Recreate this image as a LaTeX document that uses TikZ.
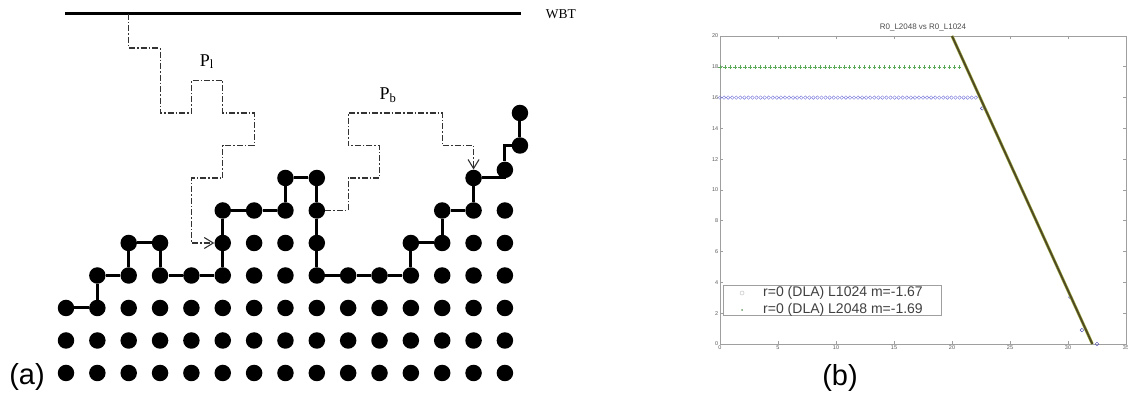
\documentclass[tikz,border=0pt]{standalone}
\usepackage{fontspec}
\setmainfont{Liberation Serif}
\newfontfamily\arialfont{Liberation Sans}
\usetikzlibrary{arrows.meta}
\definecolor{fitdark}{RGB}{80,72,35}
\definecolor{fitedge}{RGB}{160,175,70}
\definecolor{plusgreen}{RGB}{90,170,90}
\definecolor{circblue}{RGB}{120,120,220}

\tikzset{
  dot/.style={circle, fill=black, inner sep=0pt, minimum size=16.5pt},
  bond/.style={line width=3pt},
  walk/.style={line width=1.1pt, black!80, dash pattern=on 6pt off 2pt on 1.5pt off 2pt,
    -{Straight Barb[length=9pt,width=11pt]}},
  frame/.style={gray!75, line width=0.7pt},
  ticklab/.style={font=\arialfont\fontsize{5.5}{6}\selectfont, text=gray!70!black, inner sep=1.5pt},
  legtext/.style={font=\arialfont\fontsize{14}{15}\selectfont, text=black!75, inner sep=0pt},
}

\begin{document}
\begin{tikzpicture}[x=1pt, y=1pt]
\useasboundingbox (0,0) rectangle (1128,398);

% (a) lattice with the two walks
\begin{scope}[shift={(66,25)}, x=31.35pt, y=32.5pt]
  \foreach \j/\cols in {0/{0,...,14}, 1/{0,...,14}, 2/{0,...,14}, 3/{1,...,14},
      4/{2,3,5,6,7,8,11,12,13,14}, 5/{5,6,7,8,12,13,14}, 6/{7,8,13}}
    \foreach \i in \cols
      \node[dot] (d-\i-\j) at (\i,\j) {};
  \node[dot] (e1) at (14,6.25) {};
  \node[dot] (e2) at (14.48,7) {};
  \node[dot] (e3) at (14.48,8) {};

  \draw[bond] (d-0-2) -- (d-1-2) -- (d-1-3) -- (d-2-3) -- (d-2-4) -- (d-3-4) -- (d-3-3)
    -- (d-4-3) -- (d-5-3) -- (d-5-4) -- (d-5-5) -- (d-6-5) -- (d-7-5) -- (d-7-6)
    -- (d-8-6) -- (d-8-5) -- (d-8-4) -- (d-8-3) -- (d-9-3) -- (d-10-3) -- (d-11-3)
    -- (d-11-4) -- (d-12-4) -- (d-12-5) -- (d-13-5) -- (d-13-6);
  \draw[bond] (d-13-6) -| (e1);
  \draw[bond] (e1) |- (e2);
  \draw[bond] (e2) -- (e3);

  \coordinate (wbtL) at (-0.03,11.05);
  \coordinate (wbtR) at (14.5,11.05);
  \draw[line width=3pt] (wbtL) -- (wbtR);
  \node[anchor=west, font=\fontsize{13.5}{14}\selectfont, inner sep=0pt] (wbt) at ([xshift=25pt]wbtR) {WBT};

  % walk P_l
  \draw[walk] (2,11.05) -- (2,10) -- (3,10) -- (3,8) -- (4,8) -- (4,9) -- (5,9) -- (5,8)
    -- (6,8) -- (6,7) -- (5,7) -- (5,6) -- (4,6) -- (4,4) -- (d-5-4);
  % walk P_b
  \draw[walk] (d-8-5) -- (9,5) -- (9,6) -- (10,6) -- (10,7) -- (9,7) -- (9,8) -- (12,8)
    -- (12,7) -- (13,7) -- (d-13-6);

  \node[font=\fontsize{18}{19}\selectfont] (pl) at (4.49,9.58) {P\textsubscript{l}};
  \node[font=\fontsize{18}{19}\selectfont] (pb) at (10.27,8.55) {P\textsubscript{b}};
\end{scope}

% (b) log-log plot
\begin{scope}[shift={(720,54)}, x=11.6pt, y=15.4pt]
  \draw[frame] (0,0) rectangle (35,20);
  \foreach \t in {0,5,...,35} {
    \draw[frame] (\t,0) -- ++(0,3pt);
    \draw[frame] (\t,20) -- ++(0,-3pt);
    \node[ticklab, below] (xl\t) at (\t,0) {\t};
  }
  \foreach \t in {0,2,...,20} {
    \draw[frame] (0,\t) -- ++(3pt,0);
    \draw[frame] (35,\t) -- ++(-3pt,0);
    \node[ticklab, left] (yl\t) at (0,\t) {\t};
  }
  \node[font=\arialfont\fontsize{8}{9}\selectfont, text=black!70] (title) at (17.5,20.55) {R0\_L2048 vs R0\_L1024};

  \foreach \x in {0,0.35,...,22.2}
    \draw[circblue, line width=0.4pt] (\x,16) circle (1.8pt);
  \foreach \x in {0,0.43,...,21}
    \draw[plusgreen, line width=0.5pt] (\x,18) +(-1.8pt,0) -- +(1.8pt,0) +(0,-1.8pt) -- +(0,1.8pt);
  \foreach \x/\y in {22.6/15.3, 30.2/3.05, 31.2/0.9, 32.5/0}
    \draw[blue!40!gray, line width=0.4pt] (\x,\y) circle (1.8pt);

  \draw[line width=3pt, fitedge] (20,20) -- (32.1,0);
  \draw[line width=1.8pt, fitdark] (20,20) -- (32.1,0);

  \draw[frame, fill=white] (0.26,1.88) rectangle (19.1,3.83);
  \draw[gray!45, line width=0.5pt] (1.9,3.31) circle (2pt);
  \fill[plusgreen!60!gray] (1.9,2.21) circle (1pt);
  \node[legtext, anchor=west] (leg1) at (3.71,3.31) {r=0 (DLA) L1024 m=-1.67};
  \node[legtext, anchor=west] (leg2) at (3.71,2.21) {r=0 (DLA) L2048 m=-1.69};
\end{scope}

\node[font=\arialfont\fontsize{29}{30}\selectfont] (laba) at (27,21) {(a)};
\node[font=\arialfont\fontsize{29}{30}\selectfont] (labb) at (840,20) {(b)};
\end{tikzpicture}
\end{document}
